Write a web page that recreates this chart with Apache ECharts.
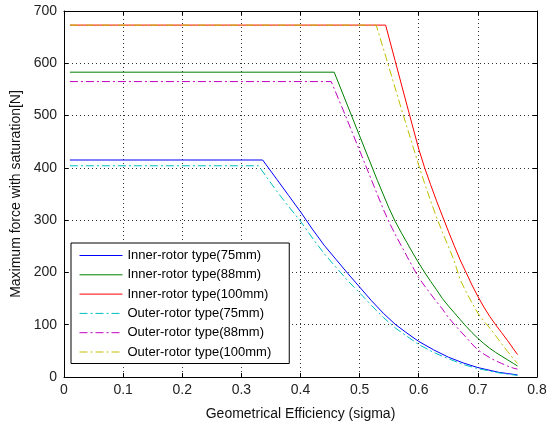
<!DOCTYPE html>
<html>
<head>
<meta charset="utf-8">
<script src="https://cdn.jsdelivr.net/npm/echarts@6/dist/echarts.min.js"></script>
<style>
html, body { margin: 0; padding: 0; background: #fff; }
#main { width: 558px; height: 426px; }
</style>
</head>
<body>
<div id="main"></div>
<script>
// values: [sigma, force N]
const inner75 = [[0.01,415],[0.336,415],[0.36,378],[0.38,347],[0.4,316],[0.42,283],[0.44,252],[0.46,225],[0.48,198],[0.5,172],[0.52,146],[0.54,122],[0.56,101],[0.58,84],[0.6,68],[0.625,52],[0.65,38],[0.675,27],[0.7,18],[0.735,9],[0.767,4]];
const inner88 = [[0.01,583],[0.457,583],[0.5,461],[0.53,376],[0.55,322],[0.56,298],[0.57,277],[0.58,257],[0.59,237],[0.6,218],[0.61,200],[0.62,183],[0.63,167],[0.64,150],[0.65,136],[0.66,123],[0.67,110],[0.68,97],[0.69,85],[0.7,74],[0.71,64],[0.72,55],[0.73,47],[0.74,40],[0.75,33],[0.76,26],[0.767,21]];
const inner100 = [[0.01,673],[0.544,673],[0.56,605],[0.58,520],[0.6,436],[0.61,400],[0.62,368],[0.63,337],[0.64,308],[0.65,279],[0.66,251],[0.67,224],[0.68,200],[0.69,176],[0.7,154],[0.71,134],[0.72,116],[0.73,100],[0.74,85],[0.75,70],[0.76,54],[0.767,43]];
const outer75 = [[0.01,404],[0.329,404],[0.36,355],[0.38,326],[0.4,298],[0.42,266],[0.44,236],[0.46,210],[0.48,184],[0.5,161],[0.52,137],[0.54,114],[0.56,94],[0.58,78],[0.6,62],[0.625,47],[0.65,35],[0.675,24],[0.7,16],[0.735,8],[0.767,3]];
const outer88 = [[0.01,565],[0.452,565],[0.476,500],[0.51,405],[0.54,321],[0.55,296],[0.56,273],[0.57,252],[0.58,231],[0.59,210],[0.6,190],[0.61,174],[0.62,159],[0.63,144],[0.64,130],[0.65,114],[0.66,101],[0.67,88],[0.68,76],[0.69,63],[0.7,52],[0.71,44],[0.72,37],[0.73,31],[0.74,26],[0.75,21],[0.76,17],[0.767,15]];
const outer100 = [[0.01,673],[0.528,673],[0.545,610],[0.57,515],[0.6,405],[0.61,370],[0.62,337],[0.63,306],[0.64,277],[0.65,250],[0.66,222],[0.67,186],[0.68,163],[0.69,142],[0.7,122],[0.71,107],[0.72,94],[0.73,79],[0.74,64],[0.75,49],[0.76,35],[0.767,26]];

const names = ['Inner-rotor type(75mm)','Inner-rotor type(88mm)','Inner-rotor type(100mm)',
               'Outer-rotor type(75mm)','Outer-rotor type(88mm)','Outer-rotor type(100mm)'];
const colors = ['#0000ff','#008000','#ff0000','#00bfbf','#bf00bf','#bfbf00'];
const dashed = [false,false,false,true,true,true];
const allData = [inner75, inner88, inner100, outer75, outer88, outer100];

const font = 'Liberation Sans, Arial, sans-serif';
const fs = 14;
const chart = echarts.init(document.getElementById('main'));

function mkSeries(i){
    return {
        name: names[i],
        type: 'line',
        data: allData[i],
        symbol: 'none',
        showSymbol: false,
        animation: false,
        lineStyle: { color: colors[i], width: 1, type: dashed[i] ? [8,3,2,3] : 'solid' },
        itemStyle: { color: colors[i] }
    };
}

const tickStyle = { show: true, inside: true, length: 4, lineStyle: { color: '#000' } };
const lineStyle = { show: true, onZero: false, lineStyle: { color: '#000', width: 1 } };
const gridStyle = { show: true, lineStyle: { color: '#333', type: [1,3], width: 1 } };

chart.setOption({
    backgroundColor: '#fff',
    animation: false,
    grid: { left: 64, right: 21, top: 11, bottom: 44, containLabel: false },
    xAxis: [{
        type: 'value', min: 0, max: 0.8, interval: 0.1,
        name: 'Geometrical Efficiency (sigma)', nameLocation: 'middle', nameGap: 30,
        nameTextStyle: { fontFamily: font, fontSize: fs, color: '#111' },
        axisLine: lineStyle, axisTick: tickStyle,
        axisLabel: { fontFamily: font, fontSize: fs, color: '#222', margin: 6,
            formatter: v => String(Math.round(v * 10) / 10) },
        splitLine: gridStyle
    }, {
        type: 'value', min: 0, max: 0.8, interval: 0.1, position: 'top',
        axisLine: lineStyle, axisTick: tickStyle,
        axisLabel: { show: false }, splitLine: { show: false }
    }],
    yAxis: [{
        type: 'value', min: 0, max: 700, interval: 100,
        name: 'Maximum force with saturation[N]', nameLocation: 'middle', nameGap: 36,
        nameTextStyle: { fontFamily: font, fontSize: fs, color: '#111' },
        axisLine: lineStyle, axisTick: tickStyle,
        axisLabel: { fontFamily: font, fontSize: fs, color: '#222', margin: 7 },
        splitLine: gridStyle
    }, {
        type: 'value', min: 0, max: 700, interval: 100, position: 'right',
        axisLine: lineStyle, axisTick: tickStyle,
        axisLabel: { show: false }, splitLine: { show: false }
    }],
    legend: {
        orient: 'vertical', left: 71, top: 243,
        data: names,
        itemWidth: 43, itemHeight: 14, itemGap: 6.3,
        itemStyle: { opacity: 0, borderWidth: 0 },
        lineStyle: { width: 1 },
        padding: [6, 18, 5, 8],
        borderColor: '#000', borderWidth: 1, backgroundColor: '#fff',
        textStyle: { fontFamily: font, fontSize: 13, color: '#000' }
    },
    series: allData.map((d, i) => mkSeries(i))
});
</script>
</body>
</html>
